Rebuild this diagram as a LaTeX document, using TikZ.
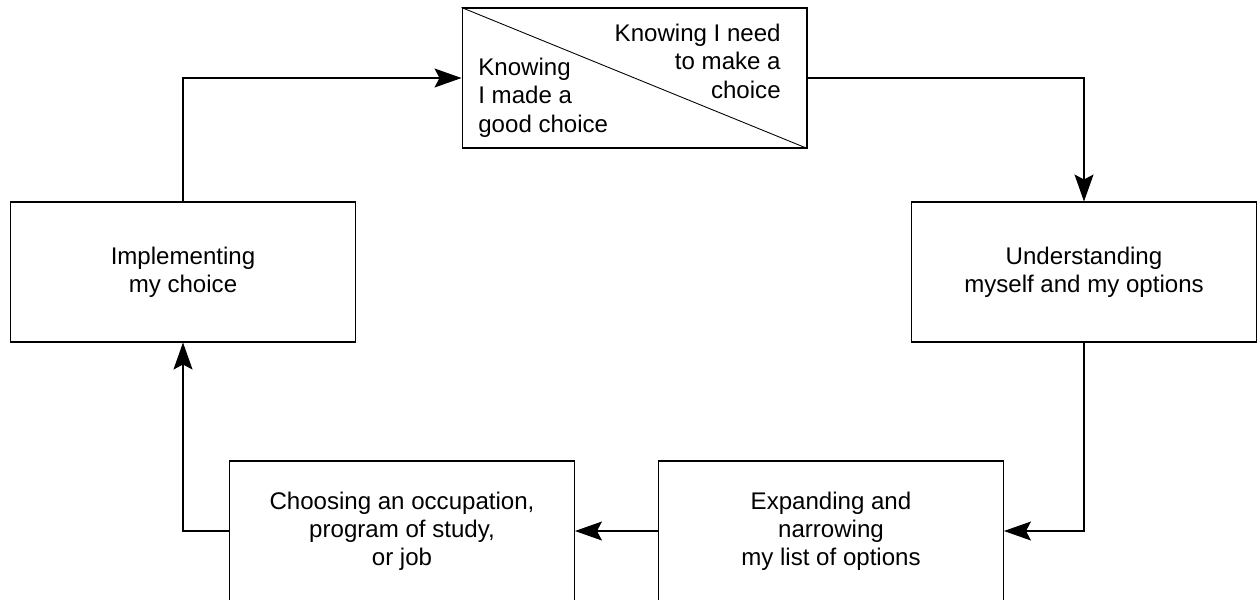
\documentclass[tikz,border=0pt]{standalone}
\usepackage{fontspec}
\setmainfont{Liberation Sans}
\usepackage{tikz}
\usetikzlibrary{arrows.meta}

\tikzset{
  stagebox/.style={draw=black, line width=0.6pt, minimum width=6.9cm, minimum height=2.8cm, align=center, inner sep=0pt},
  conn/.style={draw=black, line width=0.6pt, -{Stealth[length=0.54cm, width=0.38cm, inset=0.1cm]}},
}

\begin{document}
\begin{tikzpicture}[x=0.02cm, y=-0.02cm, font=\fontsize{13.7}{16}\selectfont]
\useasboundingbox (0,0) rectangle (1258,599);
% stages
\node[stagebox] (know) at (634.5,78) {};
\node[stagebox] (impl) at (183,272) {Implementing\\my choice};
\node[stagebox] (under) at (1084,272) {Understanding\\myself and my options};
\node[stagebox] (choose) at (402,531) {Choosing an occupation,\\program of study,\\or job};
\node[stagebox] (expand) at (831,531) {Expanding and\\narrowing\\my list of options};
% split of the first box
\draw[black, line width=0.5pt] (know.north west) -- (know.south east);
\node[anchor=north west, align=left, inner sep=0pt] (knowgood) at (478,58) {Knowing\\I made a\\good choice};
\node[anchor=north east, align=right, inner sep=0pt] (knowneed) at (781,24) {Knowing I need\\to make a\\choice};
% cycle
\draw[conn] (impl.north) |- (know.west);
\draw[conn] (know.east) -| (under.north);
\draw[conn] (under.south) |- (expand.east);
\draw[conn] (expand.west) -- (choose.east);
\draw[conn] (choose.west) -| (impl.south);
\end{tikzpicture}
\end{document}
